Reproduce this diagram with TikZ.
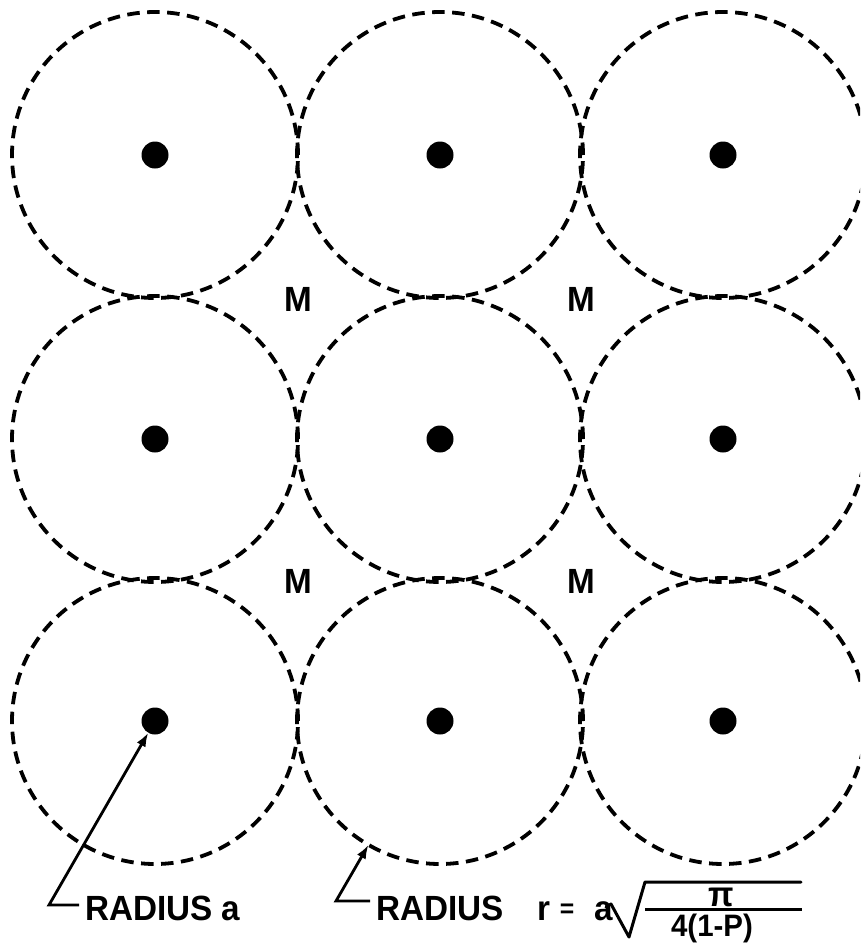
\documentclass[tikz,border=0pt]{standalone}
\usepackage{fontspec}
\setmainfont{Liberation Sans}[FakeStretch=0.95]
\usetikzlibrary{arrows.meta}
\tikzset{
  x=1pt, y=-1pt,
  ring/.style={circle, draw, line width=3.8pt, dash pattern=on 12.5pt off 7.5pt, minimum size=286pt, inner sep=0pt, outer sep=0pt},
  dot/.style={circle, fill, minimum size=27pt, inner sep=0pt, outer sep=0pt},
  lbl/.style={font=\bfseries\fontsize{35}{40}\selectfont, inner sep=0pt},
  lead/.style={line width=2.8pt, line join=miter, -{Latex[length=14pt,width=10pt]}},
  stroke/.style={line width=3pt, line join=round, line cap=round}
}
\begin{document}
\begin{tikzpicture}
\useasboundingbox (0,0) rectangle (860,945);
\clip (0,0) rectangle (860,945);
% rings and dots
\foreach \r/\yy in {1/155,2/439,3/721}{
  \foreach \c/\xx in {1/155,2/440,3/723}{
    \node[ring] (c\r\c) at (\xx,\yy) {};
    \node[dot] (d\r\c) at (\xx,\yy) {};
  }
}
% M labels
\node[lbl] (m1) at (298,299) {M};
\node[lbl] (m2) at (581,299) {M};
\node[lbl] (m3) at (298,581) {M};
\node[lbl] (m4) at (581,581) {M};
% labels
\node[lbl, anchor=base west] (t1) at (85,920) {RADIUS\hspace{9pt}a};
\node[lbl, anchor=base west] (t2) at (376,920) {RADIUS};
\node[lbl, anchor=base west] (tr) at (537,920) {r};
\node[lbl, font=\bfseries\fontsize{26}{30}\selectfont] (teq) at (567,911) {=};
\node[lbl, anchor=base west] (ta) at (594,920) {a};
\node[lbl] (tpi) at (721,897) {π};
\node[lbl, anchor=base, font=\bfseries\fontsize{31}{36}\selectfont] (tden) at (712,936) {4(1-P)};
% radical and fraction bar
\coordinate (r0) at (606,907);
\coordinate (r1) at (611,904);
\coordinate (r2) at (629,937);
\coordinate (r3) at (645,882);
\coordinate (r4) at (801,882);
\draw[stroke] (r0) -- (r1) -- (r2) -- (r3) -- (r4);
\coordinate (f0) at (645,909);
\coordinate (f1) at (802,909);
\draw[line width=3pt] (f0) -- (f1);
% leaders
\coordinate (h1) at (79,905);
\coordinate (k1) at (49,905);
\draw[lead] (h1) -- (k1) -- (d31);
\coordinate (h2) at (370,901);
\coordinate (k2) at (336,901);
\draw[lead] (h2) -- (k2) -- (c32);
\end{tikzpicture}
\end{document}
